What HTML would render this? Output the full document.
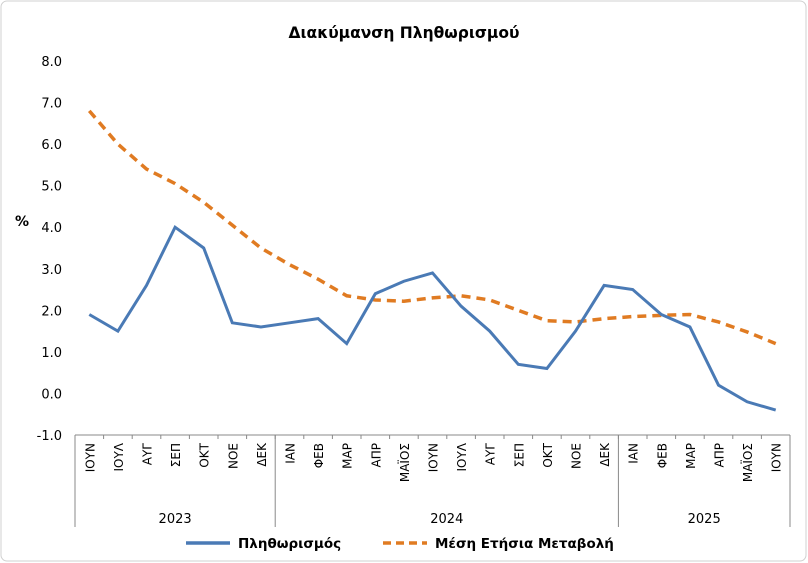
<!DOCTYPE html>
<html><head><meta charset="utf-8"><style>
body{margin:0;background:#fff}
svg{display:block;font-family:"DejaVu Sans","Liberation Sans",sans-serif}
</style></head><body>
<svg width="808" height="563">
<rect x="1" y="1" width="805" height="560" rx="6" fill="#fff" stroke="#d0d0d0"/>
<text x="404" y="38" text-anchor="middle" font-size="15.5" font-weight="bold">Διακύμανση Πληθωρισμού</text>
<text x="22" y="226" text-anchor="middle" font-size="14" font-weight="bold">%</text>
<g id="yt"></g><g id="xt"></g><g id="ser"></g>
<g>
<line x1="186" y1="543" x2="230" y2="543" stroke="#4a7ab5" stroke-width="3.5"/>
<text x="238" y="548" font-size="13.5" font-weight="bold">Πληθωρισμός</text>
<line x1="383" y1="543" x2="427" y2="543" stroke="#e07b22" stroke-width="3.5" stroke-dasharray="8,5"/>
<text x="435" y="548" font-size="13.5" font-weight="bold">Μέση Ετήσια Μεταβολή</text>
</g>
</svg>
<script>
const months=["ΙΟΥΝ","ΙΟΥΛ","ΑΥΓ","ΣΕΠ","ΟΚΤ","ΝΟΕ","ΔΕΚ","ΙΑΝ","ΦΕΒ","ΜΑΡ","ΑΠΡ","ΜΑΪΟΣ","ΙΟΥΝ","ΙΟΥΛ","ΑΥΓ","ΣΕΠ","ΟΚΤ","ΝΟΕ","ΔΕΚ","ΙΑΝ","ΦΕΒ","ΜΑΡ","ΑΠΡ","ΜΑΪΟΣ","ΙΟΥΝ"];
const years=[["2023",0,7],["2024",7,19],["2025",19,25]];
const inflation=[1.9,1.5,2.6,4.0,3.5,1.7,1.6,1.7,1.8,1.2,2.4,2.7,2.9,2.1,1.5,0.7,0.6,1.5,2.6,2.5,1.9,1.6,0.2,-0.2,-0.4];
const average=[6.8,6.0,5.4,5.05,4.6,4.05,3.5,3.1,2.75,2.35,2.25,2.22,2.3,2.35,2.25,2.0,1.75,1.72,1.8,1.85,1.88,1.9,1.72,1.48,1.2];
const yTicks=[-1,0,1,2,3,4,5,6,7,8];
const NS="http://www.w3.org/2000/svg";
const L=75,R=790,T=61,B=435,ymin=-1,ymax=8;
const bw=(R-L)/months.length;
const xs=i=>L+bw*(i+0.5);
const ys=v=>B-(v-ymin)/(ymax-ymin)*(B-T);
function mk(tag,at,parent,txt){const e=document.createElementNS(NS,tag);for(const k in at)e.setAttribute(k,at[k]);if(txt!=null)e.textContent=txt;parent.appendChild(e);return e;}
const yt=document.getElementById('yt'),xt=document.getElementById('xt'),ser=document.getElementById('ser');
yTicks.forEach(v=>{const t=mk('text',{x:62,y:ys(v)+5,'text-anchor':'end','font-size':13},yt,v.toFixed(1));

});
const ax=mk('line',{x1:L,y1:B,x2:R,y2:B,stroke:'#888'},xt);


for(let i=0;i<=months.length;i++){mk('line',{x1:L+bw*i,y1:B,x2:L+bw*i,y2:B+4,stroke:'#888'},xt);}
months.forEach((m,i)=>{const x=xs(i)+5;const t=mk('text',{x:0,y:0,transform:`translate(${x},${B+8}) rotate(-90)`,'text-anchor':'end','font-size':12},xt,m);

});
years.forEach(([y,a,b])=>{
 const s=mk('line',{x1:L+bw*a,y1:B,x2:L+bw*a,y2:527,stroke:'#888'},xt);
 
 
 const t=mk('text',{x:(L+bw*a+L+bw*b)/2,y:523,'text-anchor':'middle','font-size':13},xt,y);
 
 });
const e=mk('line',{x1:R,y1:B,x2:R,y2:527,stroke:'#888'},xt);


const p2=mk('polyline',{points:average.map((v,i)=>xs(i)+','+ys(v)).join(' '),fill:'none',stroke:'#e07b22','stroke-width':3.5,'stroke-dasharray':'9,6'},ser);


const p1=mk('polyline',{points:inflation.map((v,i)=>xs(i)+','+ys(v)).join(' '),fill:'none',stroke:'#4a7ab5','stroke-width':3},ser);


</script>
</body></html>
